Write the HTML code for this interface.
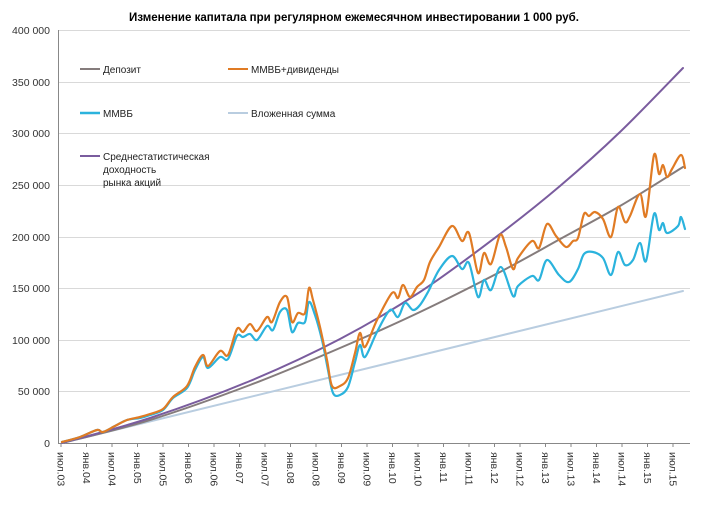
<!DOCTYPE html>
<html><head><meta charset="utf-8"><style>
body{margin:0;background:#fff;width:708px;height:517px;overflow:hidden;font-family:"Liberation Sans","DejaVu Sans",sans-serif}
</style></head><body>
<svg width="708" height="517" xmlns="http://www.w3.org/2000/svg" font-family="Liberation Sans, DejaVu Sans, sans-serif">
<text x="354" y="21" text-anchor="middle" font-size="11.5" font-weight="bold" fill="#000">Изменение капитала при регулярном ежемесячном инвестировании 1 000 руб.</text>
<g stroke="#d9d9d9" stroke-width="1">
<line x1="58" y1="30.5" x2="690" y2="30.5"/><line x1="58" y1="82.5" x2="690" y2="82.5"/>
<line x1="58" y1="133.5" x2="690" y2="133.5"/><line x1="58" y1="185.5" x2="690" y2="185.5"/>
<line x1="58" y1="237.5" x2="690" y2="237.5"/><line x1="58" y1="288.5" x2="690" y2="288.5"/>
<line x1="58" y1="340.5" x2="690" y2="340.5"/><line x1="58" y1="391.5" x2="690" y2="391.5"/>
</g>
<line x1="58.5" y1="30" x2="58.5" y2="443" stroke="#888"/>
<line x1="58" y1="443.5" x2="690" y2="443.5" stroke="#888"/>
<g font-size="10.5" fill="#333" text-anchor="end">
<text x="50" y="34">400 000</text><text x="50" y="86">350 000</text><text x="50" y="137">300 000</text>
<text x="50" y="189">250 000</text><text x="50" y="241">200 000</text><text x="50" y="292">150 000</text>
<text x="50" y="344">100 000</text><text x="50" y="395">50 000</text><text x="50" y="447">0</text>
</g>
<g id="xl" font-size="10.5" fill="#333"></g>
<g id="ln" fill="none" stroke-linejoin="round" stroke-linecap="round">
<polyline stroke="#b9cde0" stroke-width="2" points="62,443 683,291"/>
</g>
<g font-size="10" fill="#222">
<line x1="80" y1="69" x2="100" y2="69" stroke="#857c7c" stroke-width="2"/><text x="103" y="73">Депозит</text>
<line x1="228" y1="69" x2="248" y2="69" stroke="#e07b24" stroke-width="2"/><text x="251" y="73">ММВБ+дивиденды</text>
<line x1="80" y1="113" x2="100" y2="113" stroke="#2bb3dd" stroke-width="2.5"/><text x="103" y="117">ММВБ</text>
<line x1="228" y1="113" x2="248" y2="113" stroke="#b9cde0" stroke-width="2"/><text x="251" y="117">Вложенная сумма</text>
<line x1="80" y1="156" x2="100" y2="156" stroke="#7a5c9e" stroke-width="2"/><text x="103" y="160">Среднестатистическая</text>
<text x="103" y="173">доходность</text><text x="103" y="186">рынка акций</text>
</g>
</svg>
<script>
var g=document.getElementById('xl');var s='';
for(var i=0;i<25;i++){var x=61+i*25.5;var y=(i%2==0?'июл.':'янв.')+String(3+Math.floor((i+1)/2)).padStart(2,'0');
s+='<line x1="'+x+'" y1="443" x2="'+x+'" y2="447" stroke="#888"/>';
s+='<text transform="translate('+(x-3.5)+',452) rotate(90)">'+y+'</text>';}
g.innerHTML=s;
function smooth(str){var p=str.trim().split(/\s+/).map(function(t){return t.split(',').map(Number)});
var d='M'+p[0][0]+','+p[0][1];
for(var i=0;i<p.length-1;i++){var p0=p[Math.max(0,i-1)],p1=p[i],p2=p[i+1],p3=p[Math.min(p.length-1,i+2)];
var c1x=p1[0]+(p2[0]-p0[0])/6,c1y=p1[1]+(p2[1]-p0[1])/6,c2x=p2[0]-(p3[0]-p1[0])/6,c2y=p2[1]-(p3[1]-p1[1])/6;
d+=' C'+c1x.toFixed(1)+','+c1y.toFixed(1)+' '+c2x.toFixed(1)+','+c2y.toFixed(1)+' '+p2[0]+','+p2[1];}
return d;}
var dep="62,443 150,420 250,385 340,348 420,312 500,272 562,238 620,206 683,167";
var pur="62,443 150,418 250,381 340,339 420,292 500,234 560,186 620,132 683,68";
var blue="62,442 80,437 97,430 103,432 115,426 127,420 140,418 150,415 163,410 173,398 187,388 195,370 203,357 208,368 220,357 228,359 237,336 243,337 250,334 257,340 267,326 273,330 280,312 287,310 292,332 298,323 305,322 309,302 315,315 322,340 328,370 333,393 340,395 348,387 355,362 360,345 365,357 377,332 390,310 398,317 405,303 413,310 420,305 428,292 439,270 452,256 462,269 469,263 478,297 484,280 491,290 501,267 513,296 518,286 532,276 539,280 547,260 559,275 569,282 578,269 584,254 593,252 603,258 611,275 618,252 625,265 633,260 640,243 646,261 654,214 659,230 663,223 667,233 678,226 681,217 685,229";
var orange="62,442 80,437 97,430 103,432 115,426 127,420 140,417 150,414 163,409 173,397 187,386 195,367 203,355 208,366 220,351 228,355 237,329 243,332 250,324 257,331 267,317 272,322 280,302 287,297 292,322 298,313 305,313 309,288 313,300 320,327 327,360 332,386 340,386 348,378 355,353 360,333 365,347 377,320 392,293 398,298 403,285 410,297 417,287 424,280 430,262 439,247 452,226 462,241 469,233 478,273 484,253 491,264 500,235 506,247 513,269 518,258 532,241 539,248 547,224 556,236 566,247 573,241 578,238 584,214 589,216 595,212 603,219 611,237 618,207 625,222 630,216 640,194 646,216 654,155 659,174 663,165 667,177 672,169 681,155 685,168";
var ln=document.getElementById('ln');
ln.innerHTML+='<path stroke="#857c7c" stroke-width="2" d="'+smooth(dep)+'"/><path stroke="#7a5c9e" stroke-width="2" d="'+smooth(pur)+'"/><path stroke="#2bb3dd" stroke-width="2.2" d="'+smooth(blue)+'"/><path stroke="#e07b24" stroke-width="2.2" d="'+smooth(orange)+'"/>';
</script>
</body></html>
